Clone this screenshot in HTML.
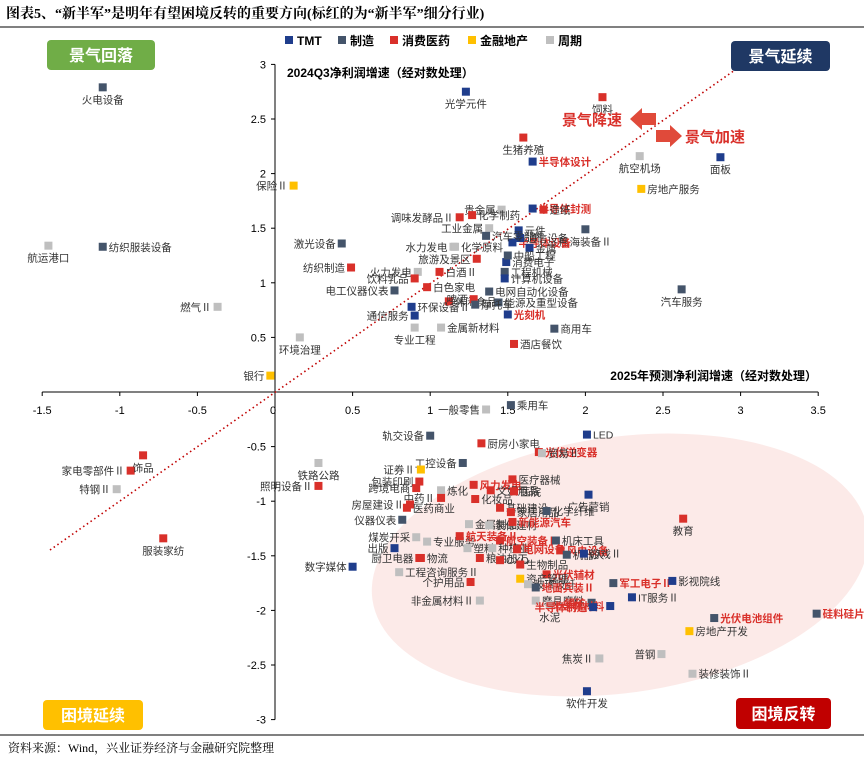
<!DOCTYPE html>
<html><head><meta charset="utf-8">
<style>
body{margin:0;background:#fff;width:864px;height:758px;overflow:hidden;font-family:"Liberation Sans","Noto Sans CJK SC",sans-serif;}
#title{position:absolute;left:6px;top:3px;font:bold 14px "Liberation Serif","Noto Serif CJK SC",serif;color:#000;}
#src{position:absolute;left:8px;top:739px;font:12px "Liberation Serif","Noto Serif CJK SC",serif;}
svg{position:absolute;left:0;top:0}
</style></head><body>
<div id="title">图表5、“新半军”是明年有望困境反转的重要方向(标红的为“新半军”细分行业)</div>
<div id="src">资料来源：Wind，兴业证券经济与金融研究院整理</div>
<svg id="chart" width="864" height="758"></svg>
<script>
const xTicks=[-1.5,-1,-0.5,0,0.5,1,1.5,2,2.5,3,3.5];
const yTicks=[-3,-2.5,-2,-1.5,-1,-0.5,0.5,1,1.5,2,2.5,3];
const catNames=["TMT","制造","消费医药","金融地产","周期"];
const catColors=["#1f3d8c","#44546a","#d9302a","#ffc000","#bfbfbf"];
const names=["火电设备","保险Ⅱ","航运港口","纺织服装设备","燃气Ⅱ","银行","激光设备","纺织制造","环境治理","光学元件","饲料","生猪养殖","半导体设计","航空机场","面板","房地产服务","半导体封测","造纸","贵金属","调味发酵品Ⅱ","化学制药","航海装备Ⅱ","元件","半导体设备","通信设备","工业金属","汽车零部件","水力发电","化学原料","金属","消费电子","旅游及景区","中船工程","火力发电","白酒Ⅱ","工程机械","计算机设备","饮料乳品","白色家电","电网自动化设备","电工仪器仪表","休闲食品","能源及重型设备","啤酒","环保设备Ⅱ","摩托车","光刻机","通信服务","金属新材料","商用车","专业工程","酒店餐饮","汽车服务","乘用车","一般零售","轨交设备","LED","厨房小家电","光伏逆变器","贸易Ⅱ","工控设备","证券Ⅱ","铁路公路","照明设备Ⅱ","家电零部件Ⅱ","饰品","特钢Ⅱ","服装家纺","医疗器械","风力发电","包装印刷","炼化","跨境电商","中药Ⅱ","化妆品","文娱用品","医院","房屋建设Ⅱ","医药商业","基础建设","家居用品","化学纤维","教育","仪器仪表","金属制品","装修建材","新能源汽车","煤炭开采","专业服务","航天装备Ⅱ","航空装备Ⅱ","机床工具","出版","物流","塑料","种植业","电网设备","风电设备","厨卫电器","粮油加工","CXO","生物制品","机器人","游戏Ⅱ","数字媒体","工程咨询服务Ⅱ","光伏辅材","资产管理","个护用品","玻璃玻纤","地面兵装Ⅱ","军工电子Ⅱ","影视院线","IT服务Ⅱ","非金属材料Ⅱ","磨具磨料","锂矿","半导体材料","光伏电池组件","水泥","硅料硅片","半导体制造","房地产开发","焦炭Ⅱ","普钢","装修装饰Ⅱ","软件开发","广告营销"];
const xVals=[-1.11,0.12,-1.46,-1.11,-0.37,-0.03,0.43,0.49,0.16,1.23,2.11,1.60,1.66,2.35,2.87,2.36,1.66,1.73,1.46,1.19,1.27,2.00,1.57,1.53,1.58,1.38,1.36,1.15,1.16,1.64,1.49,1.30,1.50,0.92,1.06,1.48,1.48,0.90,0.98,1.38,0.77,1.12,1.44,1.28,0.88,1.29,1.50,0.90,1.07,1.80,0.90,1.54,2.62,1.52,1.36,1.00,2.01,1.33,1.70,1.72,1.21,0.94,0.28,0.28,-0.93,-0.85,-1.02,-0.72,1.53,1.28,0.93,1.07,0.91,1.07,1.29,1.39,1.54,0.87,0.85,1.45,1.52,1.75,2.63,0.82,1.25,1.38,1.53,0.91,0.98,1.19,1.45,1.81,0.77,0.94,1.24,1.40,1.56,1.84,0.93,1.32,1.45,1.58,1.88,1.99,0.50,0.80,1.75,1.58,1.26,1.63,1.68,2.18,2.56,2.30,1.32,1.68,2.04,2.16,2.83,1.77,3.49,2.05,2.67,2.09,2.49,2.69,2.01,2.02];
const yVals=[2.79,1.89,1.34,1.33,0.78,0.15,1.36,1.14,0.50,2.75,2.70,2.33,2.11,2.16,2.15,1.86,1.68,1.67,1.67,1.60,1.62,1.49,1.48,1.37,1.41,1.50,1.43,1.33,1.33,1.32,1.19,1.22,1.25,1.10,1.10,1.10,1.04,1.04,0.96,0.92,0.93,0.83,0.82,0.85,0.78,0.80,0.71,0.70,0.59,0.58,0.59,0.44,0.94,-0.12,-0.16,-0.40,-0.39,-0.47,-0.55,-0.56,-0.65,-0.71,-0.65,-0.86,-0.72,-0.58,-0.89,-1.34,-0.80,-0.85,-0.82,-0.90,-0.88,-0.97,-0.98,-0.90,-0.91,-1.03,-1.06,-1.06,-1.10,-1.09,-1.16,-1.17,-1.21,-1.22,-1.19,-1.33,-1.37,-1.32,-1.36,-1.36,-1.43,-1.52,-1.43,-1.43,-1.44,-1.45,-1.52,-1.52,-1.54,-1.58,-1.49,-1.48,-1.60,-1.65,-1.67,-1.71,-1.74,-1.76,-1.79,-1.75,-1.73,-1.88,-1.91,-1.91,-1.93,-1.96,-2.07,-1.95,-2.03,-1.97,-2.19,-2.44,-2.40,-2.58,-2.74,-0.94];
const cats=[1,3,4,1,4,3,1,2,4,0,2,2,0,4,0,3,0,2,4,2,2,1,0,0,0,4,1,4,4,0,0,2,1,4,2,1,0,2,2,1,1,2,1,2,0,1,0,0,4,1,4,2,1,1,4,1,0,2,2,4,1,3,4,2,2,2,4,2,2,2,2,4,2,2,2,2,2,2,2,2,2,1,2,1,4,4,2,4,4,2,2,1,0,2,4,4,2,2,2,2,2,2,1,0,0,4,2,3,2,4,1,1,0,0,4,4,1,0,1,4,1,0,3,4,4,4,0,0];
const red=new Set(["半导体设计","半导体封测","半导体设备","光刻机","光伏逆变器","风力发电","新能源汽车","航天装备Ⅱ","航空装备Ⅱ","电网设备","风电设备","光伏辅材","地面兵装Ⅱ","军工电子Ⅱ","锂矿","半导体材料","光伏电池组件","硅料硅片","半导体制造"]);
const leftLabel=new Set(["保险Ⅱ","纺织制造","燃气Ⅱ","银行","激光设备","调味发酵品Ⅱ","工业金属","水力发电","火力发电","饮料乳品","电工仪器仪表","啤酒","包装印刷","跨境电商","房屋建设Ⅱ","家电零部件Ⅱ","特钢Ⅱ","照明设备Ⅱ","出版","数字媒体","厨卫电器","证券Ⅱ","轨交设备","锂矿","半导体材料","半导体制造","焦炭Ⅱ","普钢","非金属材料Ⅱ","个护用品","煤炭开采","仪器仪表","工控设备","一般零售","中药Ⅱ","贵金属","旅游及景区","通信服务"]);
const belowLabel=new Set(["火电设备","航运港口","光学元件","饲料","生猪养殖","航空机场","面板","服装家纺","饰品","专业工程","环境治理","软件开发","广告营销","教育","铁路公路","航海装备Ⅱ","汽车服务","水泥"]);

const S=document.getElementById('chart');const NS='http://www.w3.org/2000/svg';
function mk(t,a,p){const e=document.createElementNS(NS,t);for(const k in a)e.setAttribute(k,a[k]);(p||S).appendChild(e);return e;}
const X=v=>275+v*155.2, Y=v=>392-v*109.2;
// frame lines
mk('line',{x1:0,y1:27,x2:864,y2:27,stroke:'#000','stroke-width':1});
mk('line',{x1:0,y1:735,x2:864,y2:735,stroke:'#000','stroke-width':1});
// ellipse
const el=mk('ellipse',{cx:620,cy:565,rx:250,ry:128,fill:'#fbe5e2',opacity:0.8,transform:'rotate(-8 620 565)'});

// axes
mk('line',{x1:X(-1.5),y1:Y(0),x2:X(3.5),y2:Y(0),stroke:'#000','stroke-width':1});
mk('line',{x1:X(0),y1:Y(3),x2:X(0),y2:Y(-3),stroke:'#000','stroke-width':1});
xTicks.forEach(v=>{if(v===0){const t=mk('text',{x:X(0)-2,y:414,'font-size':11,'text-anchor':'middle'});t.textContent='0';return;}
 mk('line',{x1:X(v),y1:Y(0),x2:X(v),y2:Y(0)+4,stroke:'#000'});
 const t=mk('text',{x:X(v),y:414,'font-size':11,'text-anchor':'middle'});t.textContent=v;
 });
yTicks.forEach(v=>{mk('line',{x1:X(0)-4,y1:Y(v),x2:X(0),y2:Y(v),stroke:'#000'});
 const t=mk('text',{x:X(0)-9,y:Y(v)+4,'font-size':11,'text-anchor':'end'});t.textContent=v;
 });
// diagonal
mk('line',{x1:50,y1:550,x2:735,y2:70,stroke:'#c00000','stroke-width':1.6,'stroke-dasharray':'1.5 3'});
// axis titles
let t=mk('text',{x:287,y:77,'font-size':12,'font-weight':'bold'});t.textContent='2024Q3净利润增速（经对数处理）';

t=mk('text',{x:817,y:380,'font-size':12,'font-weight':'bold','text-anchor':'end'});t.textContent='2025年预测净利润增速（经对数处理）';

// points
names.forEach((n,i)=>{const px=X(xVals[i]),py=Y(yVals[i]);
 const g=mk('g',{});
 
 mk('rect',{x:px-4,y:py-4,width:8,height:8,fill:catColors[cats[i]]},g);
 let a={x:px+6,y:py+4,'font-size':10.5,fill:'#333'};
 if(leftLabel.has(n)){a.x=px-6;a['text-anchor']='end';}
 else if(belowLabel.has(n)){a.x=px;a.y=py+16;a['text-anchor']='middle';}
 if(red.has(n)){a.fill='#d9302a';a['font-weight']='bold';}
 const tt=mk('text',a,g);tt.textContent=n;});
// legend
let lx=285;catNames.forEach((c,i)=>{const g=mk('g',{});
 
 mk('rect',{x:lx,y:36,width:8,height:8,fill:catColors[i]},g);
 const tt=mk('text',{x:lx+12,y:45,'font-size':12,'font-weight':'bold'},g);tt.textContent=c;
 lx+=12+c.length*(c==='TMT'?9:13)+14;});
// quadrant boxes
function box(x,y,w,h,fill,txt,nm){const g=mk('g',{});
 mk('rect',{x,y,width:w,height:h,rx:4,fill},g);
 const tt=mk('text',{x:x+w/2,y:y+h/2+6,'font-size':16,'font-weight':'bold',fill:'#fff','text-anchor':'middle'},g);tt.textContent=txt;}
box(47,40,108,30,'#70ad47','景气回落','quadrant-label-top-left');
box(731,41,99,30,'#1f3864','景气延续','quadrant-label-top-right');
box(43,700,100,30,'#ffc000','困境延续','quadrant-label-bottom-left');
box(736,698,95,31,'#c00000','困境反转','quadrant-label-bottom-right');
// arrows
t=mk('text',{x:562,y:125,'font-size':15,'font-weight':'bold',fill:'#d9302a'});t.textContent='景气降速';

mk('polygon',{points:'630,119 642,108 642,113 656,113 656,125 642,125 642,130',fill:'#e04a3a'});
t=mk('text',{x:685,y:142,'font-size':15,'font-weight':'bold',fill:'#d9302a'});t.textContent='景气加速';

mk('polygon',{points:'682,136 670,125 670,130 656,130 656,142 670,142 670,147',fill:'#e04a3a'});
</script>
</body></html>
